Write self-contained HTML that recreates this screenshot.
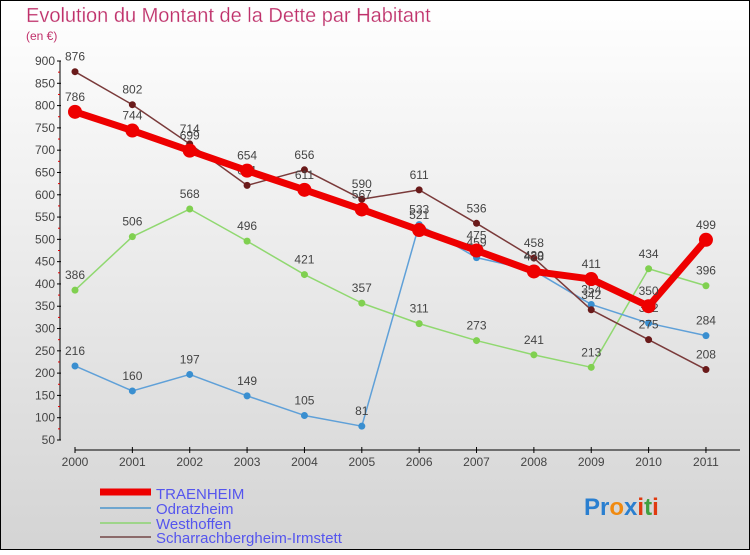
<!DOCTYPE html>
<html><head><meta charset="utf-8"><style>
body{margin:0;width:750px;height:550px;overflow:hidden;font-family:"Liberation Sans",sans-serif}
</style></head><body>
<svg width="750" height="550" xmlns="http://www.w3.org/2000/svg">
<defs><linearGradient id="bg" x1="0" y1="0" x2="0" y2="1"><stop offset="0" stop-color="#ffffff"/><stop offset="1" stop-color="#d4d4d4"/></linearGradient></defs>
<rect x="0.5" y="0.5" width="749" height="549" fill="url(#bg)" stroke="#000"/>
<text x="26" y="22" font-size="20" fill="#c0306a" stroke="#f0e0e8" stroke-width="0.3">Evolution du Montant de la Dette par Habitant</text>
<text x="26" y="40" font-size="12" fill="#c0306a">(en €)</text>
<g id="axes"></g>
<g id="series"></g>
<g id="legend" font-size="15" fill="#5555ee">
<line x1="100" y1="492" x2="151" y2="492" stroke="#ee0000" stroke-width="7"/>
<text x="156" y="499">TRAENHEIM</text>
<line x1="100" y1="508" x2="151" y2="508" stroke="#6fa6cf" stroke-width="2"/>
<text x="156" y="514">Odratzheim</text>
<line x1="100" y1="523" x2="151" y2="523" stroke="#9ed58a" stroke-width="2"/>
<text x="156" y="529">Westhoffen</text>
<line x1="100" y1="537" x2="151" y2="537" stroke="#8b6a6a" stroke-width="2"/>
<text x="156" y="543">Scharrachbergheim-Irmstett</text>
</g>
<text x="584" y="515" font-size="24" font-weight="bold"><tspan fill="#2a7fd0">Pr</tspan><tspan fill="#f08a10">o</tspan><tspan fill="#2a7fd0">x</tspan><tspan fill="#e03a10">i</tspan><tspan fill="#40a040">t</tspan><tspan fill="#e03a10">i</tspan></text>
</svg>
<script>
const years=["2000","2001","2002","2003","2004","2005","2006","2007","2008","2009","2010","2011"];
const yTicks=[50,100,150,200,250,300,350,400,450,500,550,600,650,700,750,800,850,900];
const traenheim=[786,744,699,654,611,567,521,475,428,411,350,499];
const odratzheim=[216,160,197,149,105,81,533,459,430,354,312,284];
const westhoffen=[386,506,568,496,421,357,311,273,241,213,434,396];
const scharrach=[876,802,714,621,656,590,611,536,458,342,275,208];
const NS="http://www.w3.org/2000/svg";
function X(i){return 75+i*57.36;}
function Y(v){return 440-(v-50)*(379/850);}
function mk(t,a,p){const e=document.createElementNS(NS,t);for(const k in a)e.setAttribute(k,a[k]);p.appendChild(e);return e;}
const ax=document.getElementById('axes');
let l=mk('line',{x1:60,y1:Y(900),x2:60,y2:Y(50),stroke:'#000'},ax);


l=mk('line',{x1:75,y1:450,x2:740,y2:450,stroke:'#000'},ax);


yTicks.forEach((v,i)=>{
 mk('line',{x1:57,y1:Y(v),x2:61,y2:Y(v),stroke:'#000'},ax);
 if(i<yTicks.length-1)mk('line',{x1:58,y1:Y(v+25),x2:60,y2:Y(v+25),stroke:'#e00000'},ax);
 const t=mk('text',{x:55,y:Y(v)+4,'font-size':12,'text-anchor':'end',fill:'#444'},ax);t.textContent=v;
 
 
});
years.forEach((y,i)=>{
 mk('line',{x1:X(i),y1:447,x2:X(i),y2:453,stroke:'#000'},ax);
 const t=mk('text',{x:X(i),y:466,'font-size':12,'text-anchor':'middle',fill:'#444'},ax);t.textContent=y;
 
 
});
const sg=document.getElementById('series');
function draw(data,color,dot,w,r,name){
 const g=mk('g',{},sg);
 
 
 const pl=mk('polyline',{points:data.map((v,i)=>X(i)+','+Y(v)).join(' '),fill:'none',stroke:color,'stroke-width':w,'stroke-linejoin':'round'},g);
 
 
 data.forEach((v,i)=>{
  const c=mk('circle',{cx:X(i),cy:Y(v),r:r,fill:dot},g);
  
  
  const t=mk('text',{x:X(i),y:Y(v)-11,'font-size':12,'text-anchor':'middle',fill:'#444'},g);t.textContent=v;
  
  
 });
}
draw(westhoffen,'#90d870','#80d050',1.5,3.5,'westhoffen');
draw(odratzheim,'#5fa0d8','#3a8fd0',1.5,3.5,'odratzheim');
draw(scharrach,'#7a3a3a','#6a1a1a',1.5,3.5,'scharrachbergheim');
draw(traenheim,'#ee0000','#ee0000',7,7,'traenheim');
</script>
</body></html>
